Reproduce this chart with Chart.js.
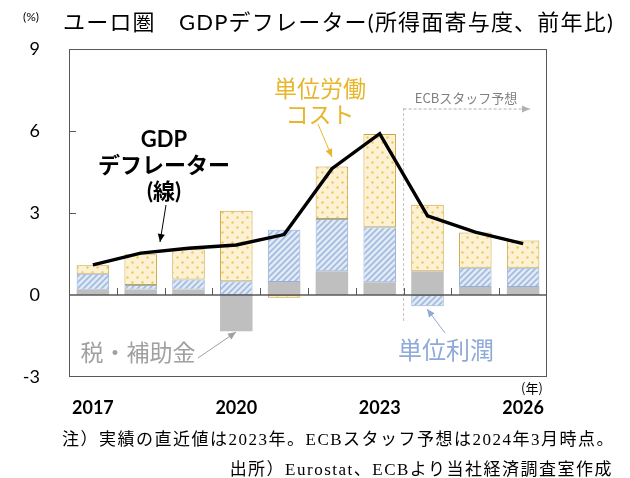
<!DOCTYPE html>
<html>
<head>
<meta charset="utf-8">
<script src="https://cdn.jsdelivr.net/npm/chart.js@4/dist/chart.umd.min.js"></script>
<style>
  html, body { margin: 0; padding: 0; background: #fff; }
  #wrap { position: relative; width: 630px; height: 478px; overflow: hidden; }
  #c { position: absolute; left: 0; top: 0; }
  .t { position: absolute; white-space: nowrap; color: #000; font-family: Lato, "Noto Sans CJK JP", sans-serif; }
  .note { font-family: "Liberation Serif", "Noto Sans CJK JP", serif; font-size: 17px; line-height: 20px; letter-spacing: 1.5px; }
</style>
</head>
<body>
<div id="wrap">
  <canvas id="c" width="630" height="478"></canvas>
  <div class="t" style="left:63px; top:8px; font-size:22px; line-height:28px; letter-spacing:1.2px;">ユーロ圏　GDPデフレーター(所得面寄与度、前年比)</div>
  <div class="t" style="left:23px; top:9px; font-size:12px; line-height:16px;">(%)</div>
  <div class="t note" style="left:62px; top:430px;">注）実績の直近値は2023年。ECBスタッフ予想は2024年3月時点。</div>
  <div class="t note" style="right:17px; top:460px;">出所）Eurostat、ECBより当社経済調査室作成</div>
</div>
<script>
const years = ['2017', '2018', '2019', '2020', '2021', '2022', '2023', '2024', '2025', '2026'];
const shownYears = ['2017', '2020', '2023', '2026'];
const taxes = [0.19, 0.20, 0.20, -1.33, 0.48, 0.87, 0.47, 0.87, 0.29, 0.29];
const profits = [0.59, 0.17, 0.37, 0.50, 1.91, 1.91, 2.01, -0.41, 0.71, 0.71];
const labour = [0.31, 1.12, 1.10, 2.58, -0.10, 1.92, 3.41, 2.43, 1.29, 0.99];
const deflator = [1.10, 1.53, 1.71, 1.83, 2.21, 4.62, 5.90, 2.90, 2.30, 1.88];
const yTicks = [-3, 0, 3, 6, 9];

const ctx = document.getElementById('c').getContext('2d');

function hatch() {
  const c = document.createElement('canvas');
  c.width = 6; c.height = 6;
  const g = c.getContext('2d');
  g.fillStyle = '#e2eaf6';
  g.fillRect(0, 0, 6, 6);
  g.strokeStyle = '#a3bbdf';
  g.lineWidth = 1.7;
  g.beginPath();
  g.moveTo(0, 6); g.lineTo(6, 0);
  g.moveTo(-1, 1); g.lineTo(1, -1);
  g.moveTo(5, 7); g.lineTo(7, 5);
  g.stroke();
  return ctx.createPattern(c, 'repeat');
}

function dots() {
  const c = document.createElement('canvas');
  c.width = 10; c.height = 10;
  const g = c.getContext('2d');
  g.fillStyle = '#fcf2d3';
  g.fillRect(0, 0, 10, 10);
  g.fillStyle = '#efc85c';
  [[2.5, 2.5], [7.5, 7.5]].forEach(([px, py]) => {
    g.beginPath(); g.arc(px, py, 1.2, 0, Math.PI * 2); g.fill();
  });
  return ctx.createPattern(c, 'repeat');
}

function arrow(c, x1, y1, x2, y2, color, dashed) {
  c.save();
  c.strokeStyle = color; c.fillStyle = color; c.lineWidth = 1;
  if (dashed) c.setLineDash([3, 2]);
  c.beginPath(); c.moveTo(x1, y1); c.lineTo(x2, y2); c.stroke();
  c.setLineDash([]);
  const a = Math.atan2(y2 - y1, x2 - x1), L = 8, W = 3.5;
  c.beginPath();
  c.moveTo(x2, y2);
  c.lineTo(x2 - L * Math.cos(a) + W * Math.sin(a), y2 - L * Math.sin(a) - W * Math.cos(a));
  c.lineTo(x2 - L * Math.cos(a) - W * Math.sin(a), y2 - L * Math.sin(a) + W * Math.cos(a));
  c.closePath(); c.fill();
  c.restore();
}

function label(c, lines, cx, cy, lh, font, color) {
  c.save();
  c.font = font; c.fillStyle = color;
  c.textAlign = 'center'; c.textBaseline = 'middle';
  lines.forEach((s, i) => c.fillText(s, cx, cy + i * lh));
  c.restore();
}

const decorations = {
  id: 'decorations',
  beforeDatasetsDraw(chart) {
    const { ctx: c, scales: { x } } = chart;
    const bx = (x.getPixelForValue(6) + x.getPixelForValue(7)) / 2;
    c.save();
    c.strokeStyle = '#c0c0c0'; c.lineWidth = 1; c.setLineDash([3, 2]);
    c.beginPath(); c.moveTo(bx, 108); c.lineTo(bx, 323); c.stroke();
    c.restore();
    arrow(c, bx, 109, 530, 109, '#b0b0b0', true);
    label(c, ['ECBスタッフ予想'], 466, 98, 0, '13px "Noto Sans CJK JP"', '#7f7f7f');
  },
  afterDatasetsDraw(chart) {
    const { ctx: c, chartArea: a, scales: { x, y } } = chart;
    const y0 = y.getPixelForValue(0);
    c.save();
    c.strokeStyle = '#595959'; c.lineWidth = 1;
    c.strokeRect(a.left + 0.5, a.top + 0.5, a.right - a.left - 1, a.bottom - a.top - 1);
    c.lineWidth = 1.5;
    c.beginPath(); c.moveTo(a.left, y0); c.lineTo(a.right, y0); c.stroke();
    c.lineWidth = 1;
    c.beginPath();
    for (let k = 1; k < years.length; k++) {
      const bx = Math.round((x.getPixelForValue(k - 1) + x.getPixelForValue(k)) / 2) + 0.5;
      c.moveTo(bx, y0); c.lineTo(bx, y0 - 7);
    }
    [3, 6].forEach(v => {
      const py = Math.round(y.getPixelForValue(v)) + 0.5;
      c.moveTo(a.left, py); c.lineTo(a.left + 7, py);
    });
    c.stroke();
    c.restore();

    label(c, ['GDP', 'デフレーター', '(線)'], 164, 140, 26, 'bold 22px Lato, "Noto Sans CJK JP"', '#000');
    arrow(c, 166, 205, 160, 242, '#000');
    label(c, ['単位労働', 'コスト'], 320, 88, 26, '23px "Noto Sans CJK JP"', '#e8b62c');
    arrow(c, 318, 124, 332, 157, '#e8b62c');
    label(c, ['税・補助金'], 138, 352, 0, '23px "Noto Sans CJK JP"', '#a0a0a0');
    arrow(c, 198, 358, 236, 332, '#a0a0a0');
    label(c, ['単位利潤'], 446, 350, 0, '24px "Noto Sans CJK JP"', '#8eaad8');
    arrow(c, 445, 333, 427, 309, '#8eaad8');
    label(c, ['(年)'], 532, 388, 0, '13px "Noto Sans CJK JP"', '#000');
  }
};

const barCommon = { stack: 'parts', order: 2, categoryPercentage: 1, barPercentage: 0.68, borderSkipped: false };

new Chart(ctx, {
  type: 'bar',
  data: {
    labels: years,
    datasets: [
      { ...barCommon, label: '税・補助金', data: taxes, backgroundColor: '#bfbfbf', borderWidth: 0 },
      { ...barCommon, label: '単位利潤', data: profits, backgroundColor: hatch(), borderColor: '#94afd9', borderWidth: 1 },
      { ...barCommon, label: '単位労働コスト', data: labour, backgroundColor: dots(), borderColor: '#c9a43c', borderWidth: 1 },
      { type: 'line', label: 'GDPデフレーター', data: deflator, stack: 'line', order: 0,
        borderColor: '#000', borderWidth: 3.4, pointRadius: 0, tension: 0, fill: false, borderJoinStyle: 'miter' }
    ]
  },
  options: {
    responsive: false,
    animation: false,
    layout: { padding: { top: 49, right: 83, left: 0, bottom: 0 } },
    plugins: { legend: { display: false }, tooltip: { enabled: false } },
    scales: {
      x: {
        stacked: true,
        grid: { display: false, drawTicks: false },
        border: { display: false },
        afterFit: s => { s.height = 101; },
        ticks: {
          autoSkip: false, maxRotation: 0, padding: 20, color: '#000',
          font: { family: 'Lato, "Noto Sans CJK JP"', size: 18, weight: 'bold' },
          callback: (v, i) => shownYears.includes(years[i]) ? years[i] : ''
        }
      },
      y: {
        stacked: true,
        min: yTicks[0], max: yTicks[yTicks.length - 1],
        afterBuildTicks: s => { s.ticks = yTicks.map(v => ({ value: v })); },
        grid: { display: false, drawTicks: false },
        border: { display: false },
        afterFit: s => { s.width = 69; },
        ticks: { padding: 29, color: '#000', font: { family: 'Lato, "Noto Sans CJK JP"', size: 18 } }
      }
    }
  },
  plugins: [decorations]
});
</script>
</body>
</html>
